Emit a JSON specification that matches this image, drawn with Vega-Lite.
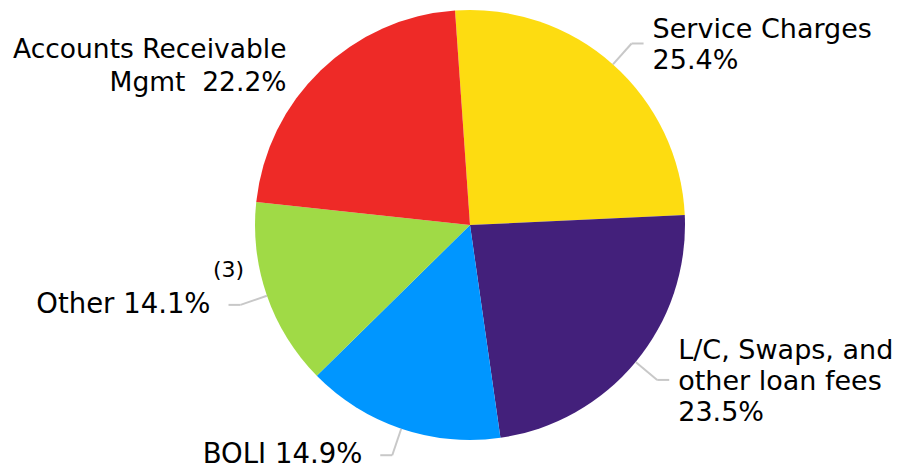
{
  "$schema": "https://vega.github.io/schema/vega-lite/v6.json",
  "width": 864,
  "height": 450,
  "autosize": {"type": "none"},
  "padding": {"left": 38, "top": 0, "right": 0, "bottom": 19},
  "background": "white",
  "config": {"view": {"stroke": null}, "text": {"font": "DejaVu Sans"}},
  "data": {
    "values": [
      {"category": "Service Charges", "value": 25.4, "label": "Service Charges\n25.4%", "note": ""},
      {"category": "L/C, Swaps, and other loan fees", "value": 23.5, "label": "L/C, Swaps, and\nother loan fees\n23.5%", "note": ""},
      {"category": "BOLI", "value": 14.9, "label": "BOLI 14.9%", "note": ""},
      {"category": "Other", "value": 14.1, "label": "Other 14.1%", "note": "(3)"},
      {"category": "Accounts Receivable Mgmt", "value": 22.2, "label": "Accounts Receivable\nMgmt\u00a0 22.2%", "note": ""}
    ]
  },
  "transform": [
    {"joinaggregate": [{"op": "sum", "field": "value", "as": "total"}]},
    {"window": [{"op": "sum", "field": "value", "as": "cum"}], "frame": [null, 0]},
    {"calculate": "datum.cum - datum.value", "as": "start"},
    {"calculate": "-0.0698 + 2*PI*(datum.cum - datum.value/2)/datum.total", "as": "a"},
    {"calculate": "sin(datum.a) > 0 ? 1 : -1", "as": "s"},
    {"calculate": "215*sin(datum.a)", "as": "x1"},
    {"calculate": "215*cos(datum.a)", "as": "y1"},
    {"calculate": "243*sin(datum.a)", "as": "xe"},
    {"calculate": "243*cos(datum.a)", "as": "ye"},
    {"calculate": "datum.xe + 12*datum.s", "as": "xs"},
    {"calculate": "datum.xs + (datum.s > 0 ? 9 : -18)", "as": "lx"},
    {"calculate": "datum.ye + (length(split(datum.label, '\\n')) - 1) * 15.5", "as": "ly"}
  ],
  "layer": [
    {
      "mark": {"type": "arc", "radius": 215},
      "encoding": {
        "theta": {"field": "start", "type": "quantitative", "scale": {"domain": [0, 100.1], "range": [-0.0698, 6.21339]}},
        "theta2": {"field": "cum"},
        "color": {
          "field": "category",
          "type": "nominal",
          "scale": {
            "domain": ["Service Charges", "L/C, Swaps, and other loan fees", "BOLI", "Other", "Accounts Receivable Mgmt"],
            "range": ["#FDDC11", "#43207B", "#0096FF", "#A0DA46", "#EE2A27"]
          },
          "legend": null
        }
      }
    },
    {
      "transform": [{"filter": "datum.category != 'Accounts Receivable Mgmt'"}],
      "mark": {"type": "rule", "color": "#C8C8C8", "strokeWidth": 2},
      "encoding": {
        "x": {"field": "x1", "type": "quantitative", "scale": {"domain": [-432, 432], "nice": false, "zero": false}, "axis": null},
        "y": {"field": "y1", "type": "quantitative", "scale": {"domain": [-225, 225], "nice": false, "zero": false}, "axis": null},
        "x2": {"field": "xe"},
        "y2": {"field": "ye"}
      }
    },
    {
      "transform": [{"filter": "datum.category != 'Accounts Receivable Mgmt'"}],
      "mark": {"type": "rule", "color": "#C8C8C8", "strokeWidth": 2},
      "encoding": {
        "x": {"field": "xe", "type": "quantitative"},
        "y": {"field": "ye", "type": "quantitative"},
        "x2": {"field": "xs"},
        "y2": {"field": "ye"}
      }
    },
    {
      "transform": [{"filter": "datum.s > 0"}],
      "mark": {"type": "text", "align": "left", "baseline": "middle", "fontSize": 27, "lineHeight": 31, "lineBreak": "\n", "dy": 2, "color": "black"},
      "encoding": {
        "x": {"field": "lx", "type": "quantitative"},
        "y": {"field": "ly", "type": "quantitative"},
        "text": {"field": "label"}
      }
    },
    {
      "transform": [{"filter": "datum.s < 0 && datum.category != 'Accounts Receivable Mgmt'"}],
      "mark": {"type": "text", "align": "right", "baseline": "middle", "fontSize": 27.5, "lineHeight": 31, "lineBreak": "\n", "dy": 0, "color": "black"},
      "encoding": {
        "x": {"field": "lx", "type": "quantitative"},
        "y": {"field": "ly", "type": "quantitative"},
        "text": {"field": "label"}
      }
    },
    {
      "transform": [{"filter": "datum.category == 'Accounts Receivable Mgmt'"}],
      "mark": {"type": "text", "align": "right", "baseline": "middle", "fontSize": 26.5, "lineHeight": 33, "lineBreak": "\n", "dx": 15, "dy": 16, "color": "black"},
      "encoding": {
        "x": {"field": "lx", "type": "quantitative"},
        "y": {"field": "ly", "type": "quantitative"},
        "text": {"field": "label"}
      }
    },
    {
      "transform": [{"filter": "datum.note != ''"}],
      "mark": {"type": "text", "align": "center", "baseline": "middle", "fontSize": 22, "dy": -35, "color": "black"},
      "encoding": {
        "x": {"field": "xs", "type": "quantitative"},
        "y": {"field": "ye", "type": "quantitative"},
        "text": {"field": "note"}
      }
    }
  ]
}
